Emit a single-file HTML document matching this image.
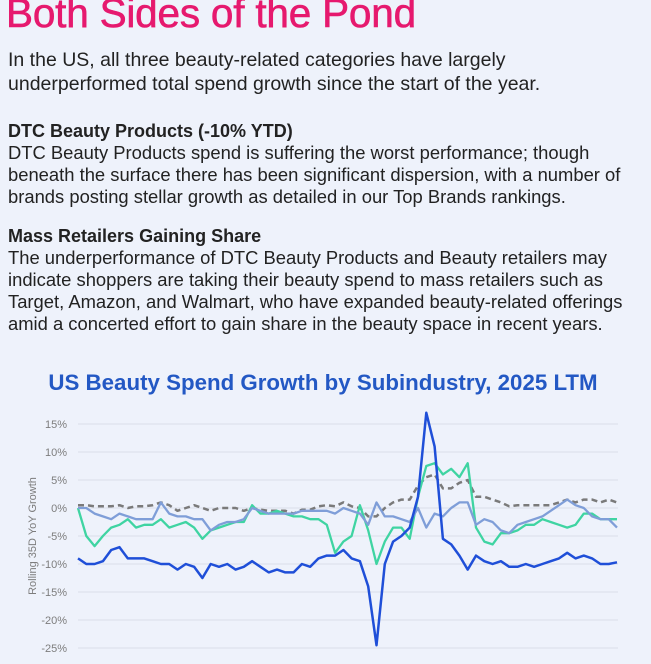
<!DOCTYPE html>
<html><head><meta charset="utf-8"><style>
body{margin:0;width:651px;height:664px;background:#eef2fb;overflow:hidden;font-family:"Liberation Sans",Arial,sans-serif;color:#222;position:relative}
.t{position:absolute;left:8px;white-space:nowrap;font-size:18.4px;line-height:22px}
.i{font-size:19.5px}
.h{font-weight:bold;font-size:18px}
h1{position:absolute;left:6px;top:-10px;margin:0;font-size:40.5px;line-height:46px;font-weight:normal;color:#e6196e;letter-spacing:-0.2px;-webkit-text-stroke:0.6px #e6196e}
</style></head><body>
<h1>Both Sides of the Pond</h1>
<div class="t i" style="top:49px">In the US, all three beauty-related categories have largely</div>
<div class="t i" style="top:73px">underperformed total spend growth since the start of the year.</div>
<div class="t h" style="top:120px">DTC Beauty Products (-10% YTD)</div>
<div class="t" style="top:142px">DTC Beauty Products spend is suffering the worst performance; though</div>
<div class="t" style="top:164px">beneath the surface there has been significant dispersion, with a number of</div>
<div class="t" style="top:186px">brands posting stellar growth as detailed in our Top Brands rankings.</div>
<div class="t h" style="top:225px">Mass Retailers Gaining Share</div>
<div class="t" style="top:247px">The underperformance of DTC Beauty Products and Beauty retailers may</div>
<div class="t" style="top:269px">indicate shoppers are taking their beauty spend to mass retailers such as</div>
<div class="t" style="top:291px">Target, Amazon, and Walmart, who have expanded beauty-related offerings</div>
<div class="t" style="top:313px">amid a concerted effort to gain share in the beauty space in recent years.</div>
<svg id="chart" width="651" height="664" style="position:absolute;left:0;top:0">
<text x="323" y="390" text-anchor="middle" font-size="22.3" font-weight="bold" fill="#2358c4" font-family="Liberation Sans, sans-serif">US Beauty Spend Growth by Subindustry, 2025 LTM</text>
<text transform="translate(36,536) rotate(-90)" text-anchor="middle" font-size="11" fill="#7d7d7d" font-family="Liberation Sans, sans-serif">Rolling 35D YoY Growth</text>
</svg>
<script>
const yTicks=[15,10,5,0,-5,-10,-15,-20,-25];
const yTickLabels=["15%","10%","5%","0%","-5%","-10%","-15%","-20%","-25%"];
const dtcBeauty=[-9,-10,-10,-9.5,-7.5,-7,-9,-9,-9,-9.5,-10,-10,-11,-10,-10.5,-12.5,-10,-10.5,-10,-11,-10.5,-9.5,-10.5,-11.5,-11,-11.5,-11.5,-10,-10.5,-9,-8.5,-8.5,-7.5,-9,-9.5,-14,-24.5,-10,-6,-5,-3.5,2,17,11,-5.5,-6.5,-8.5,-11,-8.5,-9.5,-10,-9.5,-10.5,-10.5,-10,-10.5,-10,-9.5,-9,-8,-9,-8.5,-9,-10,-10,-9.7];
const beautyRetail=[0,-5,-6.8,-5,-3.5,-3,-2,-3.5,-3,-3,-2,-3.5,-3,-2.5,-3.5,-5.5,-4,-3.5,-3,-2.5,-2.5,0.5,-1,-1,-0.5,-1,-1.5,-1.5,-2,-2,-3,-8,-6,-5,0.5,-4,-10,-6,-3.5,-3.5,-5.5,2,7.5,8,6,7,5.5,8,-3.5,-6,-6.5,-4.5,-4.5,-4,-3,-3,-2,-2.5,-3,-3.5,-3,-1,-1,-2,-2,-2];
const beautyOther=[0,0,-1,-1.5,-2,-1,-1.5,-2,-2,-2,1,-1,-1.5,-1.5,-2,-2,-4,-3,-2.5,-2.5,-2,0,-0.5,-1,-1,-1,-1,-0.5,-0.5,-0.5,-0.5,-1,0,-0.5,-1,-3,1,-1.5,-1.5,-2,-2.5,0,-3.5,-1,-1.5,0,1,1,-3,-2,-2.5,-4,-4.5,-3,-2.5,-2,-1.5,-0.5,0.5,1.5,0.5,0,-1.5,-2,-2,-3.5];
const totalSpend=[0.5,0.5,0.3,0.3,0.3,0.5,0,0.3,0.3,0.5,1,0.5,-0.5,0,0.5,0,-0.5,0,0,0,-0.5,0,-0.3,-0.5,-0.5,-0.5,-1,-0.3,-0.3,0.3,0.5,0.3,1,0.3,0,-1.5,-1.5,0,1,1.5,1.5,4,5.5,6,3.5,3.5,4.5,5,2,2,1.5,1,0.3,0.5,0.5,0.5,0.5,0.5,1,1.5,1,1.5,1.5,1,1.5,1];
const svg=document.getElementById('chart');
const NS='http://www.w3.org/2000/svg';
const X0=78,X1=617,Y15=424,Y25=648;
const y=v=>Y15+(15-v)*(Y25-Y15)/40;
const x=(i,n)=>X0+i*(X1-X0)/(n-1);
yTicks.forEach((t,i)=>{
 const l=document.createElementNS(NS,'line');
 l.setAttribute('x1',78);l.setAttribute('x2',618);l.setAttribute('y1',y(t));l.setAttribute('y2',y(t));
 l.setAttribute('stroke','#d9dee8');l.setAttribute('stroke-width','1');
 
 
 svg.appendChild(l);
 const tx=document.createElementNS(NS,'text');
 tx.setAttribute('x',67);tx.setAttribute('y',y(t)+4);tx.setAttribute('text-anchor','end');
 tx.setAttribute('font-size','11');tx.setAttribute('fill','#7d7d7d');tx.setAttribute('font-family','Liberation Sans, sans-serif');
 tx.textContent=yTickLabels[i];
 
 
 svg.appendChild(tx);
});
function line(arr,color,w,dash,name){
 const p=document.createElementNS(NS,'polyline');
 p.setAttribute('points',arr.map((v,i)=>x(i,arr.length).toFixed(1)+','+y(v).toFixed(1)).join(' '));
 p.setAttribute('fill','none');p.setAttribute('stroke',color);p.setAttribute('stroke-width',w);
 p.setAttribute('stroke-linejoin','round');
 if(dash)p.setAttribute('stroke-dasharray',dash);
 
 
 svg.appendChild(p);
}
line(totalSpend,'#7a7a7a',2.5,'6,4','series-total-spend');
line(beautyRetail,'#3fd4a2',2.3,null,'series-beauty-retail');
line(beautyOther,'#7f9ed8',2.3,null,'series-beauty-other');
line(dtcBeauty,'#1f4fd8',2.5,null,'series-dtc-beauty');
</script>
</body></html>
